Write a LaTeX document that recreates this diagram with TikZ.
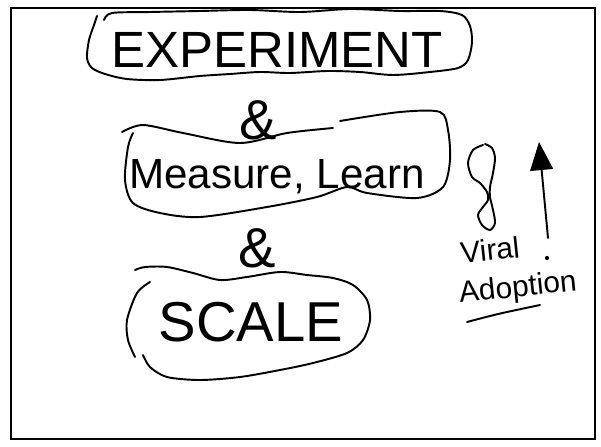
\documentclass[tikz,border=0pt]{standalone}
\usepackage{fontspec}
\setmainfont{Liberation Sans}
\usetikzlibrary{arrows.meta}

\begin{document}
\begin{tikzpicture}[x=0.02cm, y=-0.02cm,
  trazo/.style={line width=1.1pt, line cap=round, line join=round},
  rotulo/.style={inner sep=0pt}]
  \useasboundingbox (0,0) rectangle (601,446);

  % Marco (hoja)
  \draw[line width=1.1pt] (11,8) rectangle (595,439);

  % Nube de EXPERIMENT
  \draw[trazo] plot[smooth] coordinates {(104,20) (112,13) (150,12) (200,11) (250,10) (300,12) (350,9) (400,11) (440,11) (462,15) (470,26) (472,42) (468,60) (458,68) (430,72) (393,75) (360,72) (327,71) (290,73) (260,72) (230,74) (200,76) (160,80) (127,79) (105,74) (92,68) (87,58) (89,40) (94,25) (97,16)};
  \node[rotulo, font=\fontsize{29}{31}\selectfont] (experimento) at (277,50) {EXPERIMENT};

  % Primer &
  \node[rotulo, font=\fontsize{32}{34}\selectfont] (y1) at (258,120) {\&};

  % Nube de Measure, Learn
  \draw[trazo] plot[smooth] coordinates {(122,132) (143,125) (183,133) (240,143) (287,133) (333,128)};
  \draw[trazo] plot[smooth] coordinates {(340,121) (400,112) (440,112) (448,130) (450,160) (443,187) (417,198) (367,193) (347,187) (317,197) (267,207) (200,217) (160,213) (133,203) (125,180) (128,147) (133,133)};
  \node[rotulo, font=\fontsize{24}{26}\selectfont] (medir) at (277,177) {Measure, Learn};

  % Segundo &
  \node[rotulo, font=\fontsize{32}{34}\selectfont] (y2) at (257,248) {\&};

  % Nube de SCALE
  \draw[trazo] plot[smooth] coordinates {(135,270) (145,267) (167,267) (193,273) (220,280) (247,277) (280,272) (307,275) (333,278) (353,285) (367,300) (370,320) (363,340) (347,353) (313,363) (280,370) (240,377) (200,380) (167,377) (150,367) (143,355)};
  \draw[trazo] plot[smooth] coordinates {(150,282) (137,293) (127,320) (128,340) (135,357)};
  \node[rotulo, font=\fontsize{32}{34}\selectfont] (escala) at (251,322) {SCALE};

  % Garabato
  \draw[trazo] plot[smooth] coordinates {(483,145) (473,150) (468,163) (472,177) (480,183) (487,192) (488,200) (483,207) (478,215) (482,225) (490,230) (495,223) (493,210) (490,197) (490,187) (493,173) (495,158) (492,148) (485,144)};

  % Flecha hacia arriba
  \coordinate (pie) at (548,238);
  \coordinate (punta) at (539,142);
  \draw[trazo, -{Triangle[width=13pt,length=16pt]}] (pie) -- (punta);
  \fill (547,258) circle (1.2pt);

  % Viral Adoption
  \node[rotulo, font=\fontsize{17}{19}\selectfont, rotate=6] (viral) at (490,250) {Viral};
  \node[rotulo, font=\fontsize{17}{19}\selectfont, rotate=6] (adopcion) at (518,289) {Adoption};
  \draw[trazo] plot[smooth] coordinates {(467,322) (490,316) (507,312) (540,305)};
\end{tikzpicture}
\end{document}
